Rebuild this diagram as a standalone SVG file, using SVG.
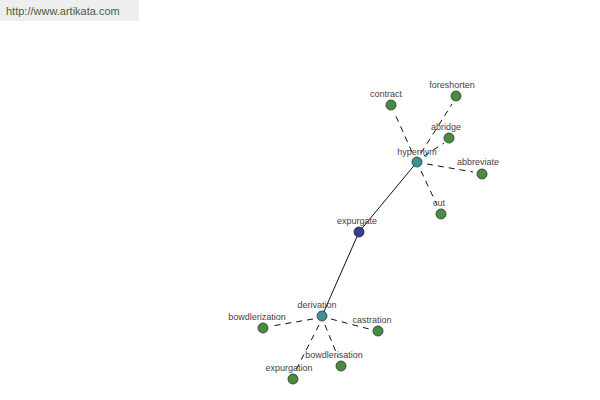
<svg xmlns="http://www.w3.org/2000/svg" width="600" height="400" viewBox="0 0 600 400">
<style>
text{font-family:"Liberation Sans",Arial,sans-serif;font-size:9px;fill:#444;text-anchor:middle}
.leaf{fill:#4b8b43;stroke:#1e3a1a;stroke-width:0.8}
.hub{fill:#3f8f93;stroke:#1c3a3c;stroke-width:0.8}
.core{fill:#3b3f94;stroke:#1a1c44;stroke-width:0.8}
.d{stroke:#111;stroke-width:1;stroke-dasharray:6,5;fill:none}
.s{stroke:#111;stroke-width:1;fill:none}
</style>
<rect x="0" y="0" width="139" height="21" fill="#eeeeee"/>
<text x="6" y="15" style="font-size:11px;fill:#4d5d3a;text-anchor:start">http://www.artikata.com</text>
<g id="connectors">
<line class="s" x1="417" y1="162" x2="359" y2="232"/>
<line class="s" x1="359" y1="232" x2="322" y2="316"/>
<line class="d" x1="412" y1="152" x2="395" y2="114"/>
<line class="d" x1="421" y1="153" x2="452" y2="104"/>
<line class="d" x1="424" y1="156" x2="444" y2="143"/>
<line class="d" x1="427" y1="164" x2="473" y2="172"/>
<line class="d" x1="421" y1="171" x2="437" y2="205"/>
<line class="d" x1="313" y1="319" x2="272" y2="326"/>
<line class="d" x1="331" y1="319" x2="369" y2="329"/>
<line class="d" x1="325" y1="325" x2="338" y2="357"/>
<line class="d" x1="319" y1="325" x2="296" y2="370"/>
</g>
<g id="expurgate"><circle class="core" cx="359" cy="232" r="5"/><text x="357" y="224">expurgate</text></g>
<g id="hypernym"><circle class="hub" cx="417" cy="162" r="5"/><text x="417" y="155">hypernym</text></g>
<g id="derivation"><circle class="hub" cx="322" cy="316" r="5"/><text x="317" y="308">derivation</text></g>
<g id="contract"><circle class="leaf" cx="391" cy="105" r="5"/><text x="386" y="97">contract</text></g>
<g id="foreshorten"><circle class="leaf" cx="456" cy="96" r="5"/><text x="452" y="88">foreshorten</text></g>
<g id="abridge"><circle class="leaf" cx="449" cy="138" r="5"/><text x="446" y="130">abridge</text></g>
<g id="abbreviate"><circle class="leaf" cx="482" cy="174" r="5"/><text x="478" y="165">abbreviate</text></g>
<g id="cut"><circle class="leaf" cx="441" cy="214" r="5"/><text x="439" y="206">cut</text></g>
<g id="bowdlerization"><circle class="leaf" cx="263" cy="328" r="5"/><text x="257" y="320">bowdlerization</text></g>
<g id="castration"><circle class="leaf" cx="378" cy="331" r="5"/><text x="372" y="323">castration</text></g>
<g id="bowdlerisation"><circle class="leaf" cx="341" cy="366" r="5"/><text x="334" y="358">bowdlerisation</text></g>
<g id="expurgation"><circle class="leaf" cx="293" cy="379" r="5"/><text x="289" y="371">expurgation</text></g>
</svg>
